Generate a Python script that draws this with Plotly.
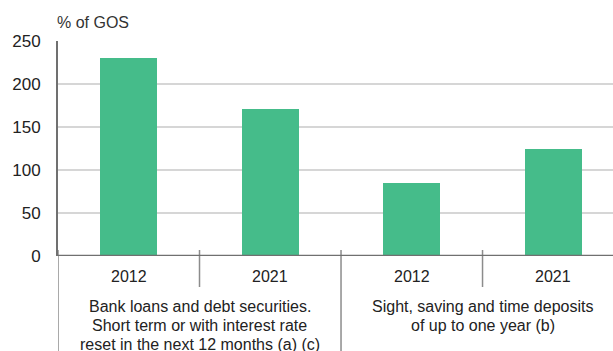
import plotly.graph_objects as go

years = ["2012", "2021", "2012", "2021"]
values = [230, 171, 84.5, 125]
group_lines = [
    ["Bank loans and debt securities.",
     "Short term or with interest rate",
     "reset in the next 12 months (a) (c)"],
    ["Sight, saving and time deposits",
     "of up to one year (b)"],
]
y_ticks = [0, 50, 100, 150, 200, 250]

FONT = "Liberation Sans, Arial, Helvetica, sans-serif"
GREEN = "#45BC8A"
TXT = "#222222"

x_pos = list(range(len(values)))

fig = go.Figure()
fig.add_trace(go.Bar(x=x_pos, y=values, width=0.40, marker=dict(color=GREEN, line=dict(width=0)),
                     hoverinfo="y"))

# px-to-paper helpers for label placement
H = 215.0
def py(px_from_zero):
    return -px_from_zero / H

# year labels
for i, yr in enumerate(years):
    fig.add_annotation(x=i, y=py(20), xref="x", yref="paper", text=yr, showarrow=False,
                       yanchor="middle", font=dict(family=FONT, size=16, color=TXT))

# group labels (one annotation per line to match line spacing)
LINE_GAP = 19.3
for gi, lines in enumerate(group_lines):
    for li, line in enumerate(lines):
        fig.add_annotation(x=gi * 2 + 0.5, y=py(50 + li * LINE_GAP), xref="x", yref="paper",
                           text=line, showarrow=False, yanchor="middle", align="center",
                           font=dict(family=FONT, size=16, color=TXT))

# divider lines
shapes = []
for xd in [0.5, 2.5]:
    shapes.append(dict(type="line", xref="x", yref="paper", x0=xd, x1=xd, y0=py(-6), y1=py(31),
                       line=dict(color="#8c8c8c", width=1.5)))
for xd in [-0.5, 1.5]:
    shapes.append(dict(type="line", xref="x", yref="paper", x0=xd, x1=xd, y0=py(-6), y1=py(100),
                       line=dict(color="#8c8c8c", width=1.5)))
# zero line
shapes.append(dict(type="line", xref="paper", yref="y", x0=0, x1=1, y0=0, y1=0,
                   line=dict(color="#707070", width=2.5)))
fig.update_layout(shapes=shapes)

fig.add_annotation(x=0, y=1.088, xref="paper", yref="paper", text="% of GOS", showarrow=False,
                   xanchor="left", yanchor="middle", xshift=-3,
                   font=dict(family=FONT, size=16, color="#333333"))

fig.update_layout(
    width=613, height=351,
    margin=dict(l=58, r=0, t=41, b=95),
    paper_bgcolor="white", plot_bgcolor="white",
    showlegend=False,
    bargap=0,
    xaxis=dict(range=[-0.5, 3.422], showticklabels=False, showgrid=False, zeroline=False,
               showline=False, fixedrange=True),
    yaxis=dict(range=[0, 250], tickvals=y_ticks, showgrid=True, gridcolor="#d6d6d6", gridwidth=1.5,
               zeroline=False, showline=True, linecolor="#707070", linewidth=2,
               ticklabelstandoff=12,
               tickfont=dict(family=FONT, size=17, color=TXT), fixedrange=True),
)

fig.write_html("out.html", config={"displayModeBar": False},
               post_script="document.body.style.margin='0';document.body.style.overflow='hidden';")
